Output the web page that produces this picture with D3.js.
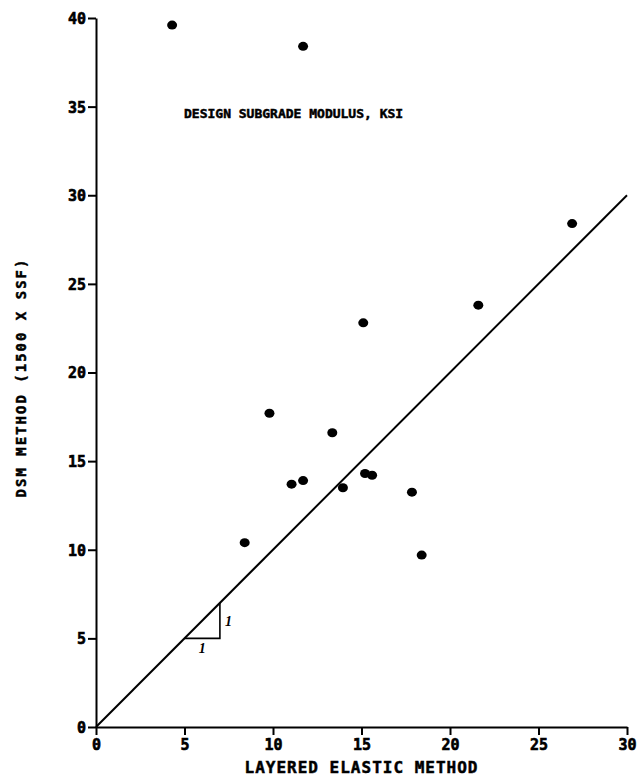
<!DOCTYPE html>
<html>
<head>
<meta charset="utf-8">
<script src="https://cdn.jsdelivr.net/npm/d3@7"></script>
<style>
  html, body { margin: 0; padding: 0; background: #fff; }
  svg { display: block; }
  .tick text { font-family: "DejaVu Sans Mono", monospace; font-weight: bold; font-size: 15px; fill: #000; stroke: #000; stroke-width: 0.6px; }
  .heavy { stroke: #000; stroke-width: 0.5px; }
</style>
</head>
<body>
<svg id="chart" width="639" height="778"></svg>
<script>
// Layered elastic vs. DSM subgrade modulus (ksi)
const layeredElastic = [4.3, 11.7, 26.9, 21.6, 15.1, 9.8, 13.35, 11.05, 11.7, 13.95, 15.2, 15.6, 17.85, 8.4, 18.4];
const dsmMethod      = [39.6, 38.4, 28.4, 23.8, 22.8, 17.7, 16.6, 13.7, 13.9, 13.5, 14.3, 14.2, 13.25, 10.4, 9.7];
const xTicks = [0, 5, 10, 15, 20, 25, 30];
const yTicks = [0, 5, 10, 15, 20, 25, 30, 35, 40];
const equalityLine = [0, 30];
const slopeRun = [5, 7];

const svg = d3.select("#chart");
const x = d3.scaleLinear().domain([0, 30]).range([96, 627]);
const y = d3.scaleLinear().domain([0, 40]).range([727, 18]);

// Axes
const xAxis = d3.axisBottom(x).tickValues(xTicks).tickSize(8).tickSizeOuter(0).tickPadding(4);
const yAxis = d3.axisLeft(y).tickValues(yTicks).tickSize(8).tickSizeOuter(0).tickPadding(2);

const gx = svg.append("g").attr("transform", `translate(0,${y(0)})`).call(xAxis);
const gy = svg.append("g").attr("transform", `translate(${x(0)},0)`).call(yAxis);
[gx, gy].forEach(g => {
  g.selectAll("path, line").attr("stroke", "#000").attr("stroke-width", 2);
});
gy.selectAll(".tick text").attr("dy", "0.36em");

// 1:1 equality line
svg.append("line")
  .attr("x1", x(equalityLine[0])).attr("y1", y(equalityLine[0]))
  .attr("x2", x(equalityLine[1])).attr("y2", y(equalityLine[1]))
  .attr("stroke", "#000").attr("stroke-width", 2);

// Slope triangle
svg.append("path")
  .attr("d", `M${x(slopeRun[0])},${y(slopeRun[0])}H${x(slopeRun[1])}V${y(slopeRun[1])}`)
  .attr("fill", "none").attr("stroke", "#000").attr("stroke-width", 1.6);
svg.append("text")
  .attr("x", (x(slopeRun[0]) + x(slopeRun[1])) / 2).attr("y", y(slopeRun[0]) + 15)
  .attr("text-anchor", "middle")
  .attr("font-family", "Liberation Serif, serif").attr("font-style", "italic").attr("font-weight", "bold")
  .attr("font-size", 14).text("1");
svg.append("text")
  .attr("x", x(slopeRun[1]) + 5).attr("y", (y(slopeRun[0]) + y(slopeRun[1])) / 2 + 5)
  .attr("font-family", "Liberation Serif, serif").attr("font-style", "italic").attr("font-weight", "bold")
  .attr("font-size", 14).text("1");

// Data points
svg.append("g").selectAll("ellipse")
  .data(layeredElastic.map((v, i) => [v, dsmMethod[i]]))
  .join("ellipse")
  .attr("cx", d => x(d[0])).attr("cy", d => y(d[1]))
  .attr("rx", 5).attr("ry", 4.5)
  .attr("fill", "#000");

// Labels
svg.append("text").attr("class", "heavy")
  .attr("x", 184).attr("y", 118)
  .attr("font-family", "DejaVu Sans Mono, monospace").attr("font-weight", "bold")
  .attr("font-size", 13).attr("letter-spacing", 0)
  .text("DESIGN SUBGRADE MODULUS, KSI");

svg.append("text").attr("class", "heavy")
  .attr("x", (x(0) + x(30)) / 2).attr("y", 773)
  .attr("text-anchor", "middle")
  .attr("font-family", "DejaVu Sans Mono, monospace").attr("font-weight", "bold")
  .attr("font-size", 16).attr("letter-spacing", 1)
  .text("LAYERED ELASTIC METHOD");

svg.append("text").attr("class", "heavy")
  .attr("transform", `translate(26,${(255 + 500) / 2}) rotate(-90)`)
  .attr("text-anchor", "middle")
  .attr("font-family", "DejaVu Sans Mono, monospace").attr("font-weight", "bold")
  .attr("font-size", 14).attr("letter-spacing", 2)
  .text("DSM METHOD (1500 X SSF)");
</script>
</body>
</html>
